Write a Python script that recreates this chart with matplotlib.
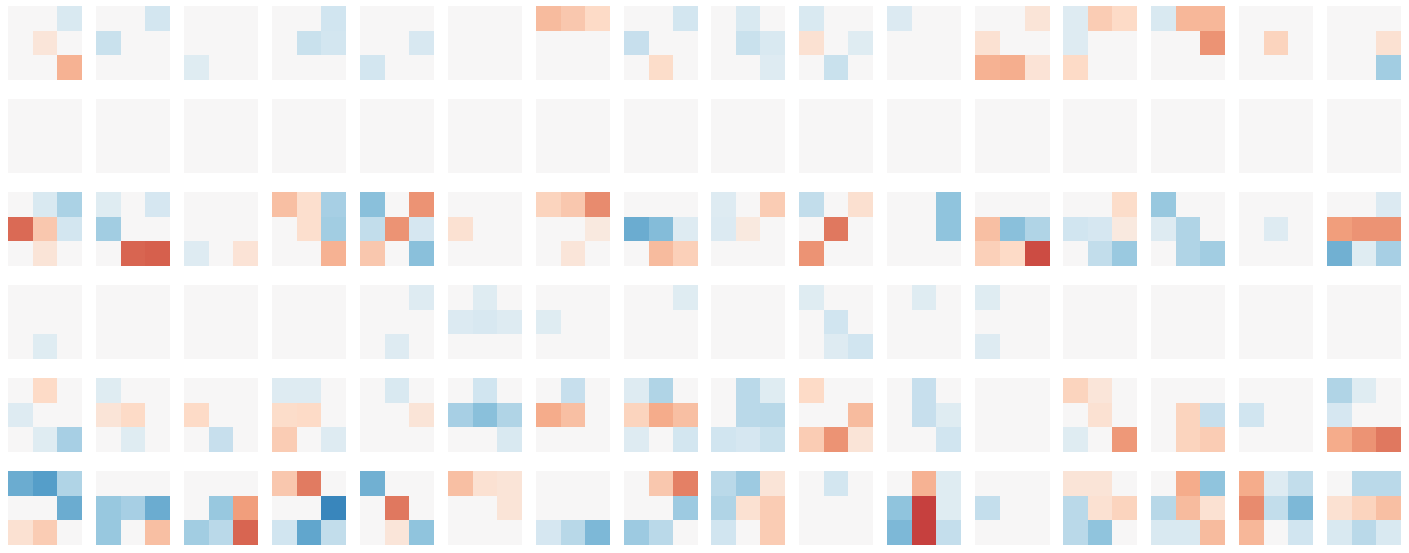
# grid of 3x3 filter weights, 6 rows x 16 filters, diverging colours
import numpy as np
import matplotlib
matplotlib.use("Agg")
import matplotlib.pyplot as plt

# each row: 16 filters, each filter a 3x3 kernel
row1 = [
    [[0, 0, -0.15], [0, 0.12, 0], [0, 0, 0.35]],
    [[0, 0, -0.18], [-0.22, 0, 0], [0, 0, 0]],
    [[0, 0, 0], [0, 0, 0], [-0.12, 0, 0]],
    [[0, 0, -0.2], [0, -0.22, -0.18], [0, 0, 0]],
    [[0, 0, 0], [0, 0, -0.16], [-0.18, 0, 0]],
    [[0, 0, 0], [0, 0, 0], [0, 0, 0]],
    [[0.32, 0.27, 0.2], [0, 0, 0], [0, 0, 0]],
    [[0, 0, -0.18], [-0.23, 0, 0], [0, 0.18, 0]],
    [[0, -0.15, 0], [0, -0.22, -0.15], [0, 0, -0.13]],
    [[-0.15, 0, 0], [0.15, 0, -0.12], [0, -0.22, 0]],
    [[-0.14, 0, 0], [0, 0, 0], [0, 0, 0]],
    [[0, 0, 0.13], [0.15, 0, 0], [0.35, 0.36, 0.14]],
    [[-0.13, 0.25, 0.2], [-0.13, 0, 0], [0.2, 0, 0]],
    [[-0.15, 0.33, 0.33], [0, 0, 0.45], [0, 0, 0]],
    [[0, 0, 0], [0, 0.22, 0], [0, 0, 0]],
    [[0, 0, 0], [0, 0, 0.15], [0, 0, -0.35]],
]

row2 = [[[0, 0, 0], [0, 0, 0], [0, 0, 0]] for _ in range(16)]

row3 = [
    [[0, -0.15, -0.32], [0.57, 0.27, -0.18], [0, 0.13, 0]],
    [[-0.12, 0, -0.17], [-0.35, 0, 0], [0, 0.58, 0.6]],
    [[0, 0, 0], [0, 0, 0], [-0.13, 0, 0.14]],
    [[0.3, 0.17, -0.33], [0, 0.17, -0.35], [0, 0, 0.35]],
    [[-0.42, 0, 0.45], [-0.25, 0.45, -0.17], [0.27, 0, -0.42]],
    [[0, 0, 0], [0.15, 0, 0], [0, 0, 0]],
    [[0.22, 0.27, 0.47], [0, 0, 0.1], [0, 0.12, 0]],
    [[0, 0, 0], [-0.5, -0.43, -0.13], [0, 0.32, 0.24]],
    [[-0.13, 0, 0.25], [-0.14, 0.1, 0], [0, 0, 0]],
    [[-0.25, 0, 0.16], [0, 0.53, 0], [0.45, 0, 0]],
    [[0, 0, -0.4], [0, 0, -0.4], [0, 0, 0]],
    [[0, 0, 0], [0.3, -0.42, -0.3], [0.24, 0.2, 0.65]],
    [[0, 0, 0.18], [-0.2, -0.17, 0.1], [0, -0.25, -0.37]],
    [[-0.38, 0, 0], [-0.13, -0.3, 0], [0, -0.3, -0.35]],
    [[0, 0, 0], [0, -0.13, 0], [0, 0, 0]],
    [[0, 0, -0.14], [0.42, 0.45, 0.45], [-0.48, -0.12, -0.33]],
]

row4 = [
    [[0, 0, 0], [0, 0, 0], [0, -0.12, 0]],
    [[0, 0, 0], [0, 0, 0], [0, 0, 0]],
    [[0, 0, 0], [0, 0, 0], [0, 0, 0]],
    [[0, 0, 0], [0, 0, 0], [0, 0, 0]],
    [[0, 0, -0.13], [0, 0, 0], [0, -0.13, 0]],
    [[0, -0.12, 0], [-0.14, -0.16, -0.13], [0, 0, 0]],
    [[0, 0, 0], [-0.12, 0, 0], [0, 0, 0]],
    [[0, 0, -0.12], [0, 0, 0], [0, 0, 0]],
    [[0, 0, 0], [0, 0, 0], [0, 0, 0]],
    [[-0.12, 0, 0], [0, -0.2, 0], [0, -0.13, -0.2]],
    [[0, -0.12, 0], [0, 0, 0], [0, 0, 0]],
    [[-0.12, 0, 0], [0, 0, 0], [-0.13, 0, 0]],
    [[0, 0, 0], [0, 0, 0], [0, 0, 0]],
    [[0, 0, 0], [0, 0, 0], [0, 0, 0]],
    [[0, 0, 0], [0, 0, 0], [0, 0, 0]],
    [[0, 0, 0], [0, 0, 0], [0, 0, 0]],
]

row5 = [
    [[0, 0.2, 0], [-0.13, 0, 0], [0, -0.12, -0.33]],
    [[-0.12, 0, 0], [0.13, 0.2, 0], [0, -0.12, 0]],
    [[0, 0, 0], [0.2, 0, 0], [0, -0.23, 0]],
    [[-0.13, -0.13, 0], [0.18, 0.2, 0], [0.25, 0, -0.13]],
    [[0, -0.15, 0], [0, 0, 0.13], [0, 0, 0]],
    [[0, -0.2, 0], [-0.33, -0.42, -0.3], [0, 0, -0.15]],
    [[0, -0.23, 0], [0.37, 0.3, 0], [0, 0, 0]],
    [[-0.13, -0.3, 0], [0.22, 0.37, 0.3], [-0.13, 0, -0.18]],
    [[0, -0.27, -0.12], [0, -0.27, -0.28], [-0.2, -0.17, -0.22]],
    [[0.2, 0, 0], [0, 0, 0.32], [0.25, 0.45, 0.13]],
    [[0, -0.23, 0], [0, -0.23, -0.12], [0, 0, -0.2]],
    [[0, 0, 0], [0, 0, 0], [0, 0, 0]],
    [[0.22, 0.12, 0], [0, 0.15, 0], [-0.12, 0, 0.43]],
    [[0, 0, 0], [0, 0.22, -0.23], [0, 0.22, 0.25]],
    [[0, 0, 0], [-0.2, 0, 0], [0, 0, 0]],
    [[-0.3, -0.12, 0], [-0.17, 0, 0], [0.37, 0.45, 0.53]],
]

row6 = [
    [[-0.5, -0.55, -0.3], [0, 0, -0.5], [0.15, 0.25, 0]],
    [[0, 0, 0], [-0.38, -0.33, -0.5], [-0.38, 0, 0.3]],
    [[0, 0, 0], [0, -0.38, 0.42], [-0.35, -0.27, 0.58]],
    [[0.27, 0.52, 0], [0, 0, -0.65], [-0.2, -0.52, -0.25]],
    [[-0.48, 0, 0], [0, 0.53, 0], [0, 0.12, -0.4]],
    [[0.3, 0.15, 0.13], [0, 0, 0.13], [0, 0, 0]],
    [[0, 0, 0], [0, 0, 0], [-0.17, -0.28, -0.45]],
    [[0, 0.27, 0.5], [0, 0, -0.36], [-0.36, -0.27, 0]],
    [[-0.27, -0.36, 0.13], [-0.3, 0.15, 0.25], [-0.2, 0, 0.25]],
    [[0, -0.18, 0], [0, 0, 0], [0, 0, 0]],
    [[0, 0.35, -0.12], [-0.4, 0.68, -0.12], [-0.45, 0.68, -0.24]],
    [[0, 0, 0], [-0.24, 0, 0], [0, 0, 0]],
    [[0.13, 0.13, 0], [-0.27, 0.15, 0.22], [-0.27, -0.4, 0]],
    [[0, 0.37, -0.4], [-0.28, 0.32, 0.15], [-0.15, -0.15, 0.32]],
    [[0.37, -0.13, -0.25], [0.47, -0.25, -0.45], [0.33, 0, -0.2]],
    [[0, -0.27, -0.27], [0.15, 0.22, 0.3], [-0.15, -0.27, -0.15]],
]

rows = [row1, row2, row3, row4, row5, row6]

fig, axes = plt.subplots(6, 16, figsize=(14.09, 5.53), dpi=100)
fig.subplots_adjust(left=8/1409, right=1401/1409, top=1-6/553, bottom=8/553,
                    wspace=13/74, hspace=19/74)

for i, row in enumerate(rows):
    for j, kernel in enumerate(row):
        ax = axes[i, j]
        ax.imshow(np.array(kernel), cmap="RdBu_r", vmin=-1, vmax=1)  # one filter
        ax.axis("off")

fig.savefig("out.png", dpi=100)
